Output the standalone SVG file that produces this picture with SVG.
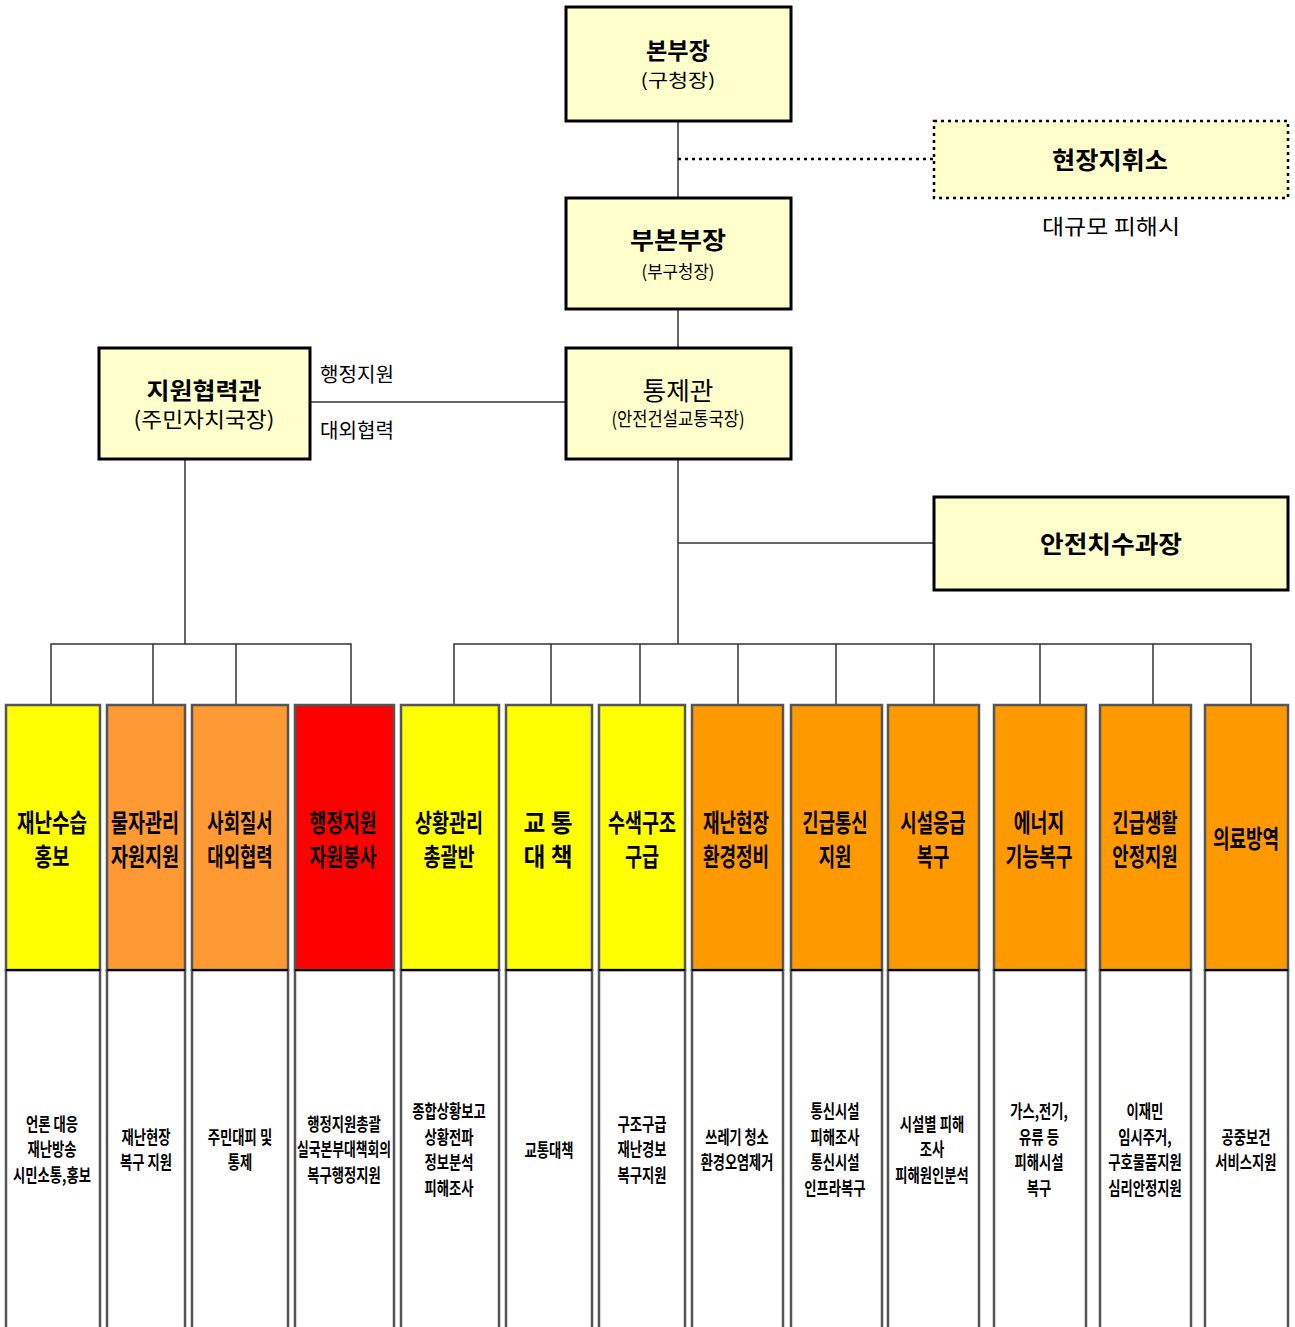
<svg xmlns="http://www.w3.org/2000/svg" width="1295" height="1327" viewBox="0 0 1295 1327">
<style>
text{font-family:"Noto Sans CJK KR","Noto Sans",sans-serif;fill:#000}
.t{text-anchor:middle}
.b{font-weight:bold}
.box{fill:#FFFFCC;stroke:#000;stroke-width:3}
.dbox{fill:#FFFFCC;stroke:#000;stroke-width:2.5;stroke-dasharray:3 4}
.ln{stroke:#333;stroke-width:1.5;fill:none}
.dot{stroke:#000;stroke-width:2.5;stroke-dasharray:3 4;fill:none}
.col{stroke:#555;stroke-width:2.5}
.body{fill:#fff;stroke:#555;stroke-width:2.5}
.sep{stroke:#000;stroke-width:2}
.h{font-size:25px;font-weight:bold;text-anchor:middle}
.s{font-size:18px;font-weight:bold;text-anchor:middle}
.Y{fill:#FFFF00}.O1{fill:#FF9933}.R{fill:#FF0000}.O2{fill:#FF9900}
</style>

<g id="connectors">
  <line class="ln" x1="678" y1="121" x2="678" y2="198"/>
  <line class="dot" x1="678" y1="159" x2="934" y2="159"/>
  <line class="ln" x1="678" y1="309" x2="678" y2="348"/>
  <line class="ln" x1="310" y1="402" x2="566" y2="402"/>
  <line class="ln" x1="678" y1="459" x2="678" y2="644"/>
  <line class="ln" x1="678" y1="543" x2="934" y2="543"/>
  <line class="ln" x1="185" y1="459" x2="185" y2="644"/>
  <polyline class="ln" points="51,705 51,644 351,644 351,705"/>
  <line class="ln" x1="153" y1="644" x2="153" y2="705"/>
  <line class="ln" x1="236" y1="644" x2="236" y2="705"/>
  <polyline class="ln" points="454,705 454,644 1251,644 1251,705"/>
  <line class="ln" x1="551" y1="644" x2="551" y2="705"/>
  <line class="ln" x1="640" y1="644" x2="640" y2="705"/>
  <line class="ln" x1="738" y1="644" x2="738" y2="705"/>
  <line class="ln" x1="836" y1="644" x2="836" y2="705"/>
  <line class="ln" x1="934" y1="644" x2="934" y2="705"/>
  <line class="ln" x1="1040" y1="644" x2="1040" y2="705"/>
  <line class="ln" x1="1153" y1="644" x2="1153" y2="705"/>
</g>

<g id="n-bonbujang">
  <rect class="box" x="566" y="7" width="225" height="114"/>
  <text class="t b" x="678" y="59" font-size="23" textLength="64" lengthAdjust="spacingAndGlyphs">본부장</text>
  <text class="t" x="678" y="87" font-size="18" textLength="75" lengthAdjust="spacingAndGlyphs">(구청장)</text>
</g>
<g id="n-hyeonjang">
  <rect class="dbox" x="934" y="121" width="354" height="77"/>
  <text class="t b" x="1110" y="169" font-size="24" textLength="116" lengthAdjust="spacingAndGlyphs">현장지휘소</text>
</g>
<text id="t-daegyumo" class="t" x="1111" y="234" font-size="21" textLength="138" lengthAdjust="spacingAndGlyphs">대규모  피해시</text>
<g id="n-bubonbujang">
  <rect class="box" x="566" y="198" width="225" height="111"/>
  <text class="t b" x="678" y="249" font-size="24" textLength="96" lengthAdjust="spacingAndGlyphs">부본부장</text>
  <text class="t" x="678" y="278" font-size="17" textLength="73" lengthAdjust="spacingAndGlyphs">(부구청장)</text>
</g>
<g id="n-jiwon">
  <rect class="box" x="99" y="348" width="211" height="111"/>
  <text class="t b" x="204" y="399" font-size="23" textLength="115" lengthAdjust="spacingAndGlyphs">지원협력관</text>
  <text class="t" x="204" y="427" font-size="21" textLength="141" lengthAdjust="spacingAndGlyphs">(주민자치국장)</text>
</g>
<g id="n-tongje">
  <rect class="box" x="566" y="348" width="225" height="111"/>
  <text class="t" x="678" y="400" font-size="25" textLength="71" lengthAdjust="spacingAndGlyphs">통제관</text>
  <text class="t" x="678" y="426" font-size="19" textLength="133" lengthAdjust="spacingAndGlyphs">(안전건설교통국장)</text>
</g>
<text x="320" y="382" font-size="20" textLength="74" lengthAdjust="spacingAndGlyphs">행정지원</text>
<text x="320" y="438" font-size="20" textLength="74" lengthAdjust="spacingAndGlyphs">대외협력</text>
<g id="n-anjeon">
  <rect class="box" x="934" y="497" width="354" height="93"/>
  <text class="t b" x="1111" y="553" font-size="24" textLength="142" lengthAdjust="spacingAndGlyphs">안전치수과장</text>
</g>

<g id="c1">
  <rect class="body" x="6" y="970" width="94" height="370"/>
  <rect class="col Y" x="6" y="705" width="94" height="265"/>
  <line class="sep" x1="6" y1="970" x2="100" y2="970"/>
  <g transform="translate(52,0) scale(0.76,1)">
    <text class="h" x="0" y="832">재난수습</text><text class="h" x="0" y="866">홍보</text>
  </g>
  <g transform="translate(52,0) scale(0.74,1)">
    <text class="s" x="0" y="1131">언론 대응</text><text class="s" x="0" y="1156">재난방송</text><text class="s" x="0" y="1182">시민소통,홍보</text>
  </g>
</g>
<g id="c2">
  <rect class="body" x="107" y="970" width="78" height="370"/>
  <rect class="col O1" x="107" y="705" width="78" height="265"/>
  <line class="sep" x1="107" y1="970" x2="185" y2="970"/>
  <g transform="translate(145,0) scale(0.74,1)">
    <text class="h" x="0" y="832">물자관리</text><text class="h" x="0" y="866">자원지원</text>
  </g>
  <g transform="translate(146,0) scale(0.74,1)">
    <text class="s" x="0" y="1144">재난현장</text><text class="s" x="0" y="1169">복구 지원</text>
  </g>
</g>
<g id="c3">
  <rect class="body" x="192" y="970" width="96" height="370"/>
  <rect class="col O1" x="192" y="705" width="96" height="265"/>
  <line class="sep" x1="192" y1="970" x2="288" y2="970"/>
  <g transform="translate(240,0) scale(0.71,1)">
    <text class="h" x="0" y="832">사회질서</text><text class="h" x="0" y="866">대외협력</text>
  </g>
  <g transform="translate(240,0) scale(0.74,1)">
    <text class="s" x="0" y="1144">주민대피 및</text><text class="s" x="0" y="1169">통제</text>
  </g>
</g>
<g id="c4">
  <rect class="body" x="295" y="970" width="99" height="370"/>
  <rect class="col R" x="295" y="705" width="99" height="265"/>
  <line class="sep" x1="295" y1="970" x2="394" y2="970"/>
  <g transform="translate(343,0) scale(0.73,1)">
    <text class="h" x="0" y="832">행정지원</text><text class="h" x="0" y="866">자원봉사</text>
  </g>
  <g transform="translate(344,0) scale(0.74,1)">
    <text class="s" x="0" y="1131">행정지원총괄</text>
    <text class="s" x="0" y="1156" textLength="127" lengthAdjust="spacingAndGlyphs">실국본부대책회의</text>
    <text class="s" x="0" y="1182">복구행정지원</text>
  </g>
</g>
<g id="c5">
  <rect class="body" x="401" y="970" width="98" height="370"/>
  <rect class="col Y" x="401" y="705" width="98" height="265"/>
  <line class="sep" x1="401" y1="970" x2="499" y2="970"/>
  <g transform="translate(449,0) scale(0.74,1)">
    <text class="h" x="0" y="832">상황관리</text><text class="h" x="0" y="866">총괄반</text>
  </g>
  <g transform="translate(449,0) scale(0.74,1)">
    <text class="s" x="0" y="1118">종합상황보고</text><text class="s" x="0" y="1144">상황전파</text><text class="s" x="0" y="1169">정보분석</text><text class="s" x="0" y="1195">피해조사</text>
  </g>
</g>
<g id="c6">
  <rect class="body" x="506" y="970" width="86" height="370"/>
  <rect class="col Y" x="506" y="705" width="86" height="265"/>
  <line class="sep" x1="506" y1="970" x2="592" y2="970"/>
  <text class="h" x="548" y="832" textLength="49" lengthAdjust="spacingAndGlyphs">교 통</text>
  <text class="h" x="548" y="866" textLength="49" lengthAdjust="spacingAndGlyphs">대 책</text>
  <g transform="translate(549,0) scale(0.74,1)">
    <text class="s" x="0" y="1157">교통대책</text>
  </g>
</g>
<g id="c7">
  <rect class="body" x="599" y="970" width="86" height="370"/>
  <rect class="col Y" x="599" y="705" width="86" height="265"/>
  <line class="sep" x1="599" y1="970" x2="685" y2="970"/>
  <g transform="translate(642,0) scale(0.74,1)">
    <text class="h" x="0" y="832">수색구조</text><text class="h" x="0" y="866">구급</text>
  </g>
  <g transform="translate(642,0) scale(0.74,1)">
    <text class="s" x="0" y="1131">구조구급</text><text class="s" x="0" y="1156">재난경보</text><text class="s" x="0" y="1182">복구지원</text>
  </g>
</g>
<g id="c8">
  <rect class="body" x="692" y="970" width="91" height="370"/>
  <rect class="col O2" x="692" y="705" width="91" height="265"/>
  <line class="sep" x1="692" y1="970" x2="783" y2="970"/>
  <g transform="translate(736,0) scale(0.72,1)">
    <text class="h" x="0" y="832">재난현장</text><text class="h" x="0" y="866">환경정비</text>
  </g>
  <g transform="translate(737,0) scale(0.73,1)">
    <text class="s" x="0" y="1144">쓰레기 청소</text><text class="s" x="0" y="1169">환경오염제거</text>
  </g>
</g>
<g id="c9">
  <rect class="body" x="791" y="970" width="91" height="370"/>
  <rect class="col O2" x="791" y="705" width="91" height="265"/>
  <line class="sep" x1="791" y1="970" x2="882" y2="970"/>
  <g transform="translate(835,0) scale(0.71,1)">
    <text class="h" x="0" y="832">긴급통신</text><text class="h" x="0" y="866">지원</text>
  </g>
  <g transform="translate(835,0) scale(0.74,1)">
    <text class="s" x="0" y="1118">통신시설</text><text class="s" x="0" y="1144">피해조사</text><text class="s" x="0" y="1169">통신시설</text><text class="s" x="0" y="1195">인프라복구</text>
  </g>
</g>
<g id="c10">
  <rect class="body" x="888" y="970" width="91" height="370"/>
  <rect class="col O2" x="888" y="705" width="91" height="265"/>
  <line class="sep" x1="888" y1="970" x2="979" y2="970"/>
  <g transform="translate(933,0) scale(0.71,1)">
    <text class="h" x="0" y="832">시설응급</text><text class="h" x="0" y="866">복구</text>
  </g>
  <g transform="translate(932,0) scale(0.74,1)">
    <text class="s" x="0" y="1131">시설별 피해</text><text class="s" x="0" y="1156">조사</text><text class="s" x="0" y="1182">피해원인분석</text>
  </g>
</g>
<g id="c11">
  <rect class="body" x="994" y="970" width="92" height="370"/>
  <rect class="col O2" x="994" y="705" width="92" height="265"/>
  <line class="sep" x1="994" y1="970" x2="1086" y2="970"/>
  <g transform="translate(1039,0) scale(0.73,1)">
    <text class="h" x="0" y="832">에너지</text><text class="h" x="0" y="866">기능복구</text>
  </g>
  <g transform="translate(1039,0) scale(0.74,1)">
    <text class="s" x="0" y="1118">가스,전기,</text><text class="s" x="0" y="1144">유류 등</text><text class="s" x="0" y="1169">피해시설</text><text class="s" x="0" y="1195">복구</text>
  </g>
</g>
<g id="c12">
  <rect class="body" x="1100" y="970" width="91" height="370"/>
  <rect class="col O2" x="1100" y="705" width="91" height="265"/>
  <line class="sep" x1="1100" y1="970" x2="1191" y2="970"/>
  <g transform="translate(1145,0) scale(0.71,1)">
    <text class="h" x="0" y="832">긴급생활</text><text class="h" x="0" y="866">안정지원</text>
  </g>
  <g transform="translate(1145,0) scale(0.74,1)">
    <text class="s" x="0" y="1118">이재민</text><text class="s" x="0" y="1144">임시주거,</text><text class="s" x="0" y="1169">구호물품지원</text><text class="s" x="0" y="1195">심리안정지원</text>
  </g>
</g>
<g id="c13">
  <rect class="body" x="1205" y="970" width="83" height="370"/>
  <rect class="col O2" x="1205" y="705" width="83" height="265"/>
  <line class="sep" x1="1205" y1="970" x2="1288" y2="970"/>
  <g transform="translate(1246,0) scale(0.72,1)">
    <text class="h" x="0" y="848">의료방역</text>
  </g>
  <g transform="translate(1246,0) scale(0.74,1)">
    <text class="s" x="0" y="1144">공중보건</text><text class="s" x="0" y="1169">서비스지원</text>
  </g>
</g>
</svg>
